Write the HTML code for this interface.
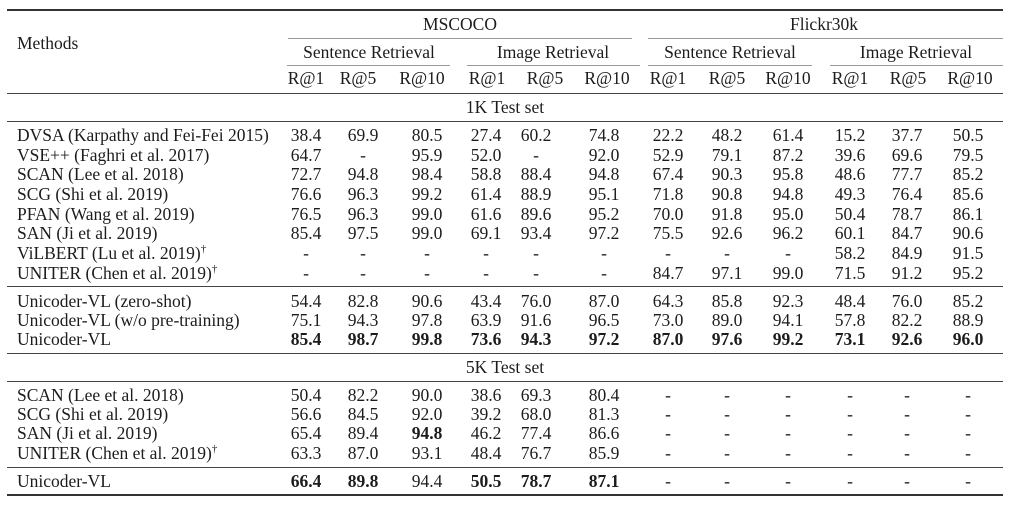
<!DOCTYPE html>
<html><head><meta charset="utf-8"><style>
body{margin:0;background:#fff;width:1013px;height:507px;position:relative;overflow:hidden;font-family:"Liberation Serif",serif;font-size:17.5px;color:#1c1c1c}
.r{position:absolute;left:0;width:1013px;height:20px;line-height:20px}
.r span{position:absolute;transform:translateX(-50%);white-space:nowrap}
.r span.l{transform:none;left:17px}
.h{position:absolute;background:#444;height:1px}
.t{position:absolute;background:#333;height:2px}
.c{position:absolute;background:#999;height:1px}
b{font-weight:bold}
sup{font-size:11px;line-height:0}
</style></head><body>
<div class="t" style="left:7px;width:996px;top:9px"></div>
<div class="c" style="left:288px;width:344px;top:38px"></div>
<div class="c" style="left:648px;width:355px;top:38px"></div>
<div class="c" style="left:287px;width:163px;top:65px"></div>
<div class="c" style="left:467px;width:173px;top:65px"></div>
<div class="c" style="left:648px;width:164px;top:65px"></div>
<div class="c" style="left:830px;width:173px;top:65px"></div>
<div class="h" style="left:7px;width:996px;top:93px"></div>
<div class="h" style="left:7px;width:996px;top:121px"></div>
<div class="h" style="left:7px;width:996px;top:286px"></div>
<div class="h" style="left:7px;width:996px;top:353px"></div>
<div class="h" style="left:7px;width:996px;top:381px"></div>
<div class="h" style="left:7px;width:996px;top:467px"></div>
<div class="t" style="left:7px;width:996px;top:494px"></div>

<div class="r" style="top:14px"><span style="left:460px">MSCOCO</span><span style="left:824px">Flickr30k</span></div>
<div class="r" style="top:33px"><span class="l">Methods</span></div>
<div class="r" style="top:42px"><span style="left:369px">Sentence Retrieval</span><span style="left:553px">Image Retrieval</span><span style="left:730px">Sentence Retrieval</span><span style="left:916px">Image Retrieval</span></div>
<div class="r" style="top:68px"><span style="left:306px">R@1</span><span style="left:358px">R@5</span><span style="left:422px">R@10</span><span style="left:487px">R@1</span><span style="left:545px">R@5</span><span style="left:607px">R@10</span><span style="left:668px">R@1</span><span style="left:727px">R@5</span><span style="left:788px">R@10</span><span style="left:850px">R@1</span><span style="left:908px">R@5</span><span style="left:970px">R@10</span></div>
<div class="r" style="top:97px"><span style="left:505px">1K Test set</span></div>

<div class="r" style="top:125px"><span class="l">DVSA (Karpathy and Fei-Fei 2015)</span><span style="left:306px">38.4</span><span style="left:363px">69.9</span><span style="left:427px">80.5</span><span style="left:486px">27.4</span><span style="left:536px">60.2</span><span style="left:604px">74.8</span><span style="left:668px">22.2</span><span style="left:727px">48.2</span><span style="left:788px">61.4</span><span style="left:850px">15.2</span><span style="left:907px">37.7</span><span style="left:968px">50.5</span></div>
<div class="r" style="top:145px"><span class="l">VSE++ (Faghri et al. 2017)</span><span style="left:306px">64.7</span><span style="left:363px">-</span><span style="left:427px">95.9</span><span style="left:486px">52.0</span><span style="left:536px">-</span><span style="left:604px">92.0</span><span style="left:668px">52.9</span><span style="left:727px">79.1</span><span style="left:788px">87.2</span><span style="left:850px">39.6</span><span style="left:907px">69.6</span><span style="left:968px">79.5</span></div>
<div class="r" style="top:164px"><span class="l">SCAN (Lee et al. 2018)</span><span style="left:306px">72.7</span><span style="left:363px">94.8</span><span style="left:427px">98.4</span><span style="left:486px">58.8</span><span style="left:536px">88.4</span><span style="left:604px">94.8</span><span style="left:668px">67.4</span><span style="left:727px">90.3</span><span style="left:788px">95.8</span><span style="left:850px">48.6</span><span style="left:907px">77.7</span><span style="left:968px">85.2</span></div>
<div class="r" style="top:184px"><span class="l">SCG (Shi et al. 2019)</span><span style="left:306px">76.6</span><span style="left:363px">96.3</span><span style="left:427px">99.2</span><span style="left:486px">61.4</span><span style="left:536px">88.9</span><span style="left:604px">95.1</span><span style="left:668px">71.8</span><span style="left:727px">90.8</span><span style="left:788px">94.8</span><span style="left:850px">49.3</span><span style="left:907px">76.4</span><span style="left:968px">85.6</span></div>
<div class="r" style="top:204px"><span class="l">PFAN (Wang et al. 2019)</span><span style="left:306px">76.5</span><span style="left:363px">96.3</span><span style="left:427px">99.0</span><span style="left:486px">61.6</span><span style="left:536px">89.6</span><span style="left:604px">95.2</span><span style="left:668px">70.0</span><span style="left:727px">91.8</span><span style="left:788px">95.0</span><span style="left:850px">50.4</span><span style="left:907px">78.7</span><span style="left:968px">86.1</span></div>
<div class="r" style="top:223px"><span class="l">SAN (Ji et al. 2019)</span><span style="left:306px">85.4</span><span style="left:363px">97.5</span><span style="left:427px">99.0</span><span style="left:486px">69.1</span><span style="left:536px">93.4</span><span style="left:604px">97.2</span><span style="left:668px">75.5</span><span style="left:727px">92.6</span><span style="left:788px">96.2</span><span style="left:850px">60.1</span><span style="left:907px">84.7</span><span style="left:968px">90.6</span></div>
<div class="r" style="top:243px"><span class="l">ViLBERT (Lu et al. 2019)<sup>†</sup></span><span style="left:306px">-</span><span style="left:363px">-</span><span style="left:427px">-</span><span style="left:486px">-</span><span style="left:536px">-</span><span style="left:604px">-</span><span style="left:668px">-</span><span style="left:727px">-</span><span style="left:788px">-</span><span style="left:850px">58.2</span><span style="left:907px">84.9</span><span style="left:968px">91.5</span></div>
<div class="r" style="top:263px"><span class="l">UNITER (Chen et al. 2019)<sup>†</sup></span><span style="left:306px">-</span><span style="left:363px">-</span><span style="left:427px">-</span><span style="left:486px">-</span><span style="left:536px">-</span><span style="left:604px">-</span><span style="left:668px">84.7</span><span style="left:727px">97.1</span><span style="left:788px">99.0</span><span style="left:850px">71.5</span><span style="left:907px">91.2</span><span style="left:968px">95.2</span></div>

<div class="r" style="top:291px"><span class="l">Unicoder-VL (zero-shot)</span><span style="left:306px">54.4</span><span style="left:363px">82.8</span><span style="left:427px">90.6</span><span style="left:486px">43.4</span><span style="left:536px">76.0</span><span style="left:604px">87.0</span><span style="left:668px">64.3</span><span style="left:727px">85.8</span><span style="left:788px">92.3</span><span style="left:850px">48.4</span><span style="left:907px">76.0</span><span style="left:968px">85.2</span></div>
<div class="r" style="top:310px"><span class="l">Unicoder-VL (w/o pre-training)</span><span style="left:306px">75.1</span><span style="left:363px">94.3</span><span style="left:427px">97.8</span><span style="left:486px">63.9</span><span style="left:536px">91.6</span><span style="left:604px">96.5</span><span style="left:668px">73.0</span><span style="left:727px">89.0</span><span style="left:788px">94.1</span><span style="left:850px">57.8</span><span style="left:907px">82.2</span><span style="left:968px">88.9</span></div>
<div class="r" style="top:329px"><span class="l">Unicoder-VL</span><span style="left:306px"><b>85.4</b></span><span style="left:363px"><b>98.7</b></span><span style="left:427px"><b>99.8</b></span><span style="left:486px"><b>73.6</b></span><span style="left:536px"><b>94.3</b></span><span style="left:604px"><b>97.2</b></span><span style="left:668px"><b>87.0</b></span><span style="left:727px"><b>97.6</b></span><span style="left:788px"><b>99.2</b></span><span style="left:850px"><b>73.1</b></span><span style="left:907px"><b>92.6</b></span><span style="left:968px"><b>96.0</b></span></div>

<div class="r" style="top:357px"><span style="left:505px">5K Test set</span></div>

<div class="r" style="top:385px"><span class="l">SCAN (Lee et al. 2018)</span><span style="left:306px">50.4</span><span style="left:363px">82.2</span><span style="left:427px">90.0</span><span style="left:486px">38.6</span><span style="left:536px">69.3</span><span style="left:604px">80.4</span><span style="left:668px">-</span><span style="left:727px">-</span><span style="left:788px">-</span><span style="left:850px">-</span><span style="left:907px">-</span><span style="left:968px">-</span></div>
<div class="r" style="top:404px"><span class="l">SCG (Shi et al. 2019)</span><span style="left:306px">56.6</span><span style="left:363px">84.5</span><span style="left:427px">92.0</span><span style="left:486px">39.2</span><span style="left:536px">68.0</span><span style="left:604px">81.3</span><span style="left:668px">-</span><span style="left:727px">-</span><span style="left:788px">-</span><span style="left:850px">-</span><span style="left:907px">-</span><span style="left:968px">-</span></div>
<div class="r" style="top:423px"><span class="l">SAN (Ji et al. 2019)</span><span style="left:306px">65.4</span><span style="left:363px">89.4</span><span style="left:427px"><b>94.8</b></span><span style="left:486px">46.2</span><span style="left:536px">77.4</span><span style="left:604px">86.6</span><span style="left:668px">-</span><span style="left:727px">-</span><span style="left:788px">-</span><span style="left:850px">-</span><span style="left:907px">-</span><span style="left:968px">-</span></div>
<div class="r" style="top:443px"><span class="l">UNITER (Chen et al. 2019)<sup>†</sup></span><span style="left:306px">63.3</span><span style="left:363px">87.0</span><span style="left:427px">93.1</span><span style="left:486px">48.4</span><span style="left:536px">76.7</span><span style="left:604px">85.9</span><span style="left:668px">-</span><span style="left:727px">-</span><span style="left:788px">-</span><span style="left:850px">-</span><span style="left:907px">-</span><span style="left:968px">-</span></div>
<div class="r" style="top:471px"><span class="l">Unicoder-VL</span><span style="left:306px"><b>66.4</b></span><span style="left:363px"><b>89.8</b></span><span style="left:427px">94.4</span><span style="left:486px"><b>50.5</b></span><span style="left:536px"><b>78.7</b></span><span style="left:604px"><b>87.1</b></span><span style="left:668px">-</span><span style="left:727px">-</span><span style="left:788px">-</span><span style="left:850px">-</span><span style="left:907px">-</span><span style="left:968px">-</span></div>
</body></html>
